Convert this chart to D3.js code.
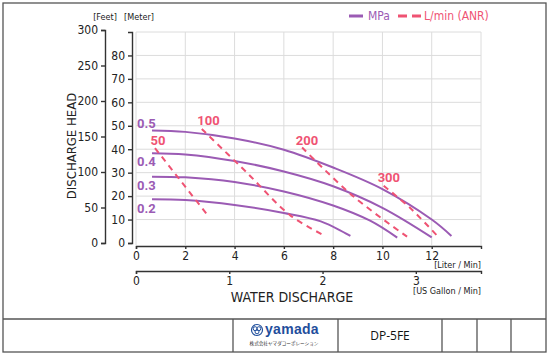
<!DOCTYPE html>
<html><head><meta charset="utf-8">
<script src="https://cdn.jsdelivr.net/npm/d3@7"></script>
<style>
html,body{margin:0;padding:0;background:#fff;}
svg{display:block;}
.cond{font-family:"Liberation Sans Narrow","DejaVu Sans Condensed","Roboto Condensed",sans-serif;}
</style></head>
<body>
<svg id="c" width="550" height="357"></svg>
<script>
// ---- data ----
const flowTicks = [0, 2, 4, 6, 8, 10, 12];
const gallonTicks = [0, 1, 2, 3];
const meterTicks = [0, 10, 20, 30, 40, 50, 60, 70, 80];
const feetTicks = [0, 50, 100, 150, 200, 250, 300];
const pressureLabels = ["0.5", "0.4", "0.3", "0.2"];
// head curves per pressure: [L/min, m]
const p05 = [[0.65,48],[2,47.4],[4,44.6],[6,39.8],[8,32.2],[10,23],[12,10],[12.8,3]];
const p04 = [[0.65,38.3],[2,37.8],[4,35],[6,30.5],[8,24.2],[10,15],[12,2.4]];
const p03 = [[0.65,28.3],[2,28],[4,26],[6,22],[8,16],[9.5,9.5],[10.6,2.3]];
const p02 = [[0.65,18.7],[2,18.3],[4,16.2],[6,12.8],[7.5,9.2],[8.7,3]];
// air consumption lines: [L/min, m]
const airLabels = ["50", "100", "200", "300"];
const a50  = [[0.77,40.5],[2.94,11.4]];
const a100 = [[2.67,48.6],[4.5,30],[6.26,11.8],[7.68,3.0]];
const a200 = [[6.74,40.7],[8.83,19.8],[11.0,2.7]];
const a300 = [[10.05,24.4],[11.14,14.8],[12.29,2.3]];
const legendLabels = ["MPa", "L/min (ANR)"];

const purple = "#9b5bb4", red = "#ef5373", axisC = "#333", gridC = "#dcdcdc";
const svg = d3.select("#c");

// frame
svg.append("rect").attr("x",3).attr("y",3).attr("width",543).attr("height",349)
  .attr("fill","none").attr("stroke","#555").attr("stroke-width",1.3);

const x = d3.scaleLinear().domain([0,14]).range([136,481]);
const xg = d3.scaleLinear().domain([0,14/3.785]).range([136,481]);
const ym = d3.scaleLinear().domain([0,90]).range([243,32]);
const yf = d3.scaleLinear().domain([0,300]).range([243,30]);

// grid
const g = svg.append("g");
g.selectAll(".hg").data(d3.range(10,91,10)).join("line")
  .attr("x1",136).attr("x2",481).attr("y1",d=>ym(d)).attr("y2",d=>ym(d))
  .attr("stroke",gridC).attr("stroke-width",1);
g.selectAll(".vg").data(d3.range(0,15,2)).join("line")
  .attr("x1",d=>x(d)).attr("x2",d=>x(d)).attr("y1",32).attr("y2",245)
  .attr("stroke",gridC).attr("stroke-width",1);

function styleAxis(sel){
  sel.selectAll("path,line").attr("stroke",axisC).attr("stroke-width",1.4);
  sel.selectAll("text").attr("class","cond").attr("font-size",12).attr("fill","#222");
}
// y axes
svg.append("g").attr("transform","translate(105,0)")
  .call(d3.axisLeft(yf).tickValues(feetTicks).tickSize(4).tickSizeOuter(4).tickPadding(3))
  .call(styleAxis);
svg.append("g").attr("transform","translate(132,0)")
  .call(d3.axisLeft(ym).tickValues(meterTicks).tickSize(4).tickSizeOuter(4).tickPadding(3))
  .call(styleAxis);
// x axes
svg.append("g").attr("transform","translate(0,246)")
  .call(d3.axisBottom(x).tickValues(flowTicks).tickSize(3).tickSizeOuter(3).tickPadding(2))
  .call(styleAxis);
svg.append("g").attr("transform","translate(0,271)")
  .call(d3.axisBottom(xg).tickValues(gallonTicks).tickFormat(d3.format("d")).tickSize(3).tickSizeOuter(3).tickPadding(2))
  .call(styleAxis);

// axis titles
const t = svg.append("g").attr("class","cond").attr("fill","#222");
t.append("text").attr("x",105).attr("y",20).attr("text-anchor","middle").attr("font-size",9).text("[Feet]");
t.append("text").attr("x",139).attr("y",20).attr("text-anchor","middle").attr("font-size",9).text("[Meter]");
t.append("text").attr("x",481).attr("y",268).attr("text-anchor","end").attr("font-size",9).text("[Liter / Min]");
t.append("text").attr("x",481).attr("y",294).attr("text-anchor","end").attr("font-size",9).text("[US Gallon / Min]");
t.append("text").attr("x",292).attr("y",302).attr("text-anchor","middle").attr("font-size",14).text("WATER DISCHARGE");
t.append("text").attr("transform","translate(76,146) rotate(-90)").attr("text-anchor","middle").attr("font-size",13).text("DISCHARGE HEAD");

// curves
const line = d3.line().x(d=>x(d[0])).y(d=>ym(d[1])).curve(d3.curveCatmullRom);
const pCurves = [p05,p04,p03,p02];
svg.append("g").selectAll("path").data(pCurves).join("path")
  .attr("d",line).attr("fill","none").attr("stroke",purple).attr("stroke-width",2);
const aLine = d3.line().x(d=>x(d[0])).y(d=>ym(d[1])).curve(d3.curveCatmullRom);
const aCurves = [a50,a100,a200,a300];
svg.append("g").selectAll("path").data(aCurves).join("path")
  .attr("d",aLine).attr("fill","none").attr("stroke",red).attr("stroke-width",2)
  .attr("stroke-dasharray","6,5");

// labels
const pLabelPos = [[0,49.1],[0,32.8],[0,22.6],[0,12.8]];
svg.append("g").selectAll("text").data(pressureLabels).join("text")
  .attr("x",(d,i)=>x(pLabelPos[i][0])+1).attr("y",(d,i)=>ym(pLabelPos[i][1]))
  .attr("font-family","Roboto,'Liberation Sans',sans-serif").attr("font-weight","bold")
  .attr("font-size",13).attr("fill",purple).text(d=>d);
const aLabelPos = [[0.89,41.9],[2.94,50.4],[6.94,41.9],[10.26,26.1]];
svg.append("g").selectAll("text").data(airLabels).join("text")
  .attr("x",(d,i)=>x(aLabelPos[i][0])).attr("y",(d,i)=>ym(aLabelPos[i][1]))
  .attr("text-anchor","middle")
  .attr("font-family","Roboto,'Liberation Sans',sans-serif").attr("font-weight","bold")
  .attr("font-size",13).attr("fill",red).text(d=>d);

// legend
const lg = svg.append("g").attr("class","cond").attr("font-size",12);
lg.append("line").attr("x1",349).attr("x2",363).attr("y1",16).attr("y2",16).attr("stroke",purple).attr("stroke-width",3);
lg.append("text").attr("x",368).attr("y",20).attr("fill",purple).text(legendLabels[0]);
lg.append("line").attr("x1",398).attr("x2",421).attr("y1",16).attr("y2",16).attr("stroke",red).attr("stroke-width",3).attr("stroke-dasharray","9,5");
lg.append("text").attr("x",424).attr("y",20).attr("fill",red).text(legendLabels[1]);

// bottom table
const tb = svg.append("g").attr("stroke","#555").attr("stroke-width",1.3);
tb.append("line").attr("x1",3).attr("x2",546).attr("y1",319).attr("y2",319);
[233,338,442,477,511].forEach(v=>tb.append("line").attr("x1",v).attr("x2",v).attr("y1",319).attr("y2",352));
svg.append("text").attr("x",390).attr("y",340).attr("text-anchor","middle")
  .attr("font-family","'Open Sans','Noto Sans',sans-serif").attr("font-size",12).attr("fill","#111").text("DP-5FE");
// logo
const logo = svg.append("g").attr("fill","#1f4e9c");
const lc = logo.append("g").attr("transform","translate(257,330)");
lc.append("circle").attr("r",5.5).attr("fill","none").attr("stroke","#1f4e9c").attr("stroke-width",1.2);
lc.append("circle").attr("cx",-1.8).attr("cy",-1.3).attr("r",2).attr("fill","none").attr("stroke","#1f4e9c").attr("stroke-width",1);
lc.append("circle").attr("cx",1.8).attr("cy",-1.3).attr("r",2).attr("fill","none").attr("stroke","#1f4e9c").attr("stroke-width",1);
lc.append("circle").attr("cx",0).attr("cy",1.8).attr("r",2).attr("fill","none").attr("stroke","#1f4e9c").attr("stroke-width",1);
logo.append("text").attr("x",265).attr("y",334).attr("font-family","'Liberation Sans',sans-serif")
  .attr("font-weight","bold").attr("font-size",14).attr("letter-spacing",0.3).text("yamada");
logo.append("text").attr("x",284).attr("y",345).attr("text-anchor","middle").attr("font-family","'Noto Sans CJK JP',sans-serif")
  .attr("font-size",4.6).attr("fill","#333").text("株式会社ヤマダコーポレーション");
</script>
</body></html>
